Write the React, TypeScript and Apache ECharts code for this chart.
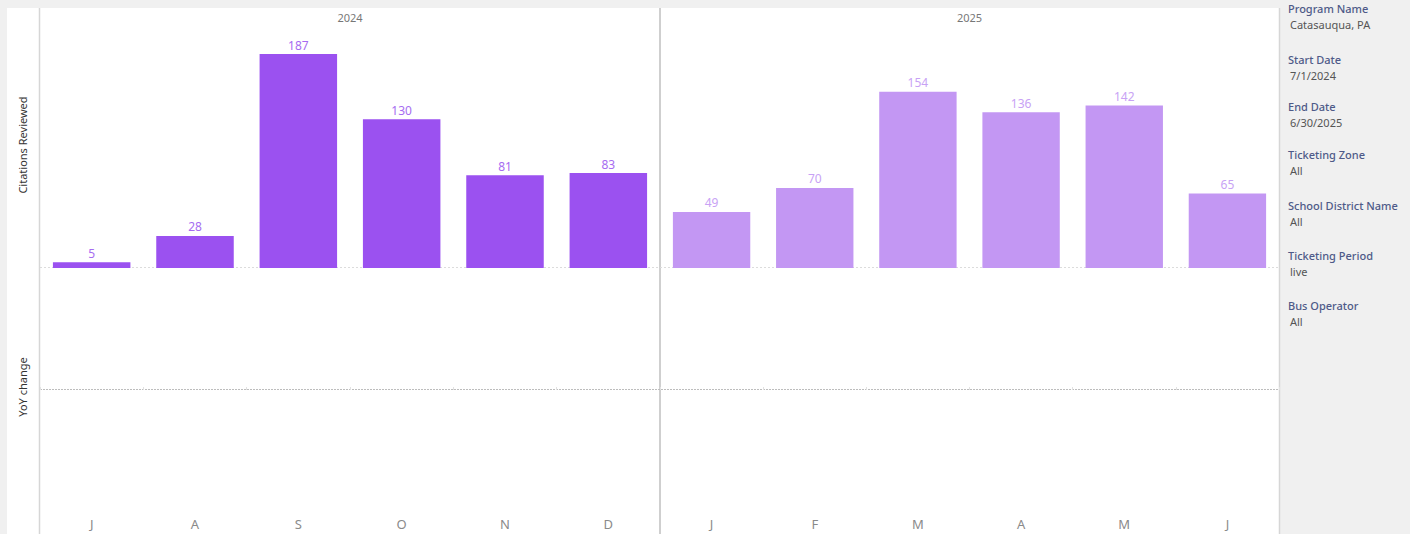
import React, { useEffect, useRef } from "react";
import * as echarts from "echarts";

const months2024 = ["J", "A", "S", "O", "N", "D"];
const months2025 = ["J", "F", "M", "A", "M", "J"];
const values2024 = [5, 28, 187, 130, 81, 83];
const values2025 = [49, 70, 154, 136, 142, 65];
const years = ["2024", "2025"];
const filterTitles = ["Program Name", "Start Date", "End Date", "Ticketing Zone", "School District Name", "Ticketing Period", "Bus Operator"];
const filterValues = ["Catasauqua, PA", "7/1/2024", "6/30/2025", "All", "All", "live", "All"];

const FONT = "'Noto Sans', 'Open Sans', sans-serif";

export default function App() {
  const ref = useRef<HTMLDivElement>(null);
  useEffect(() => {
    if (!ref.current) return;
    const chart = echarts.init(ref.current, undefined, { renderer: "svg" });
    const topY = 8, midY = 268, botY = 512;
    const x0 = 40, x1 = 660, x2 = 1279;
    const filterTitleY = [8, 59, 106, 154, 205, 255, 305];
    const graphic: any[] = [
      { type: "rect", shape: { x: 7, y: 8, width: 1273, height: 526 }, style: { fill: "#ffffff" }, silent: true, z: -10 },
      { type: "line", shape: { x1: 39.5, y1: topY, x2: 39.5, y2: 534 }, style: { stroke: "#d6d6d6", lineWidth: 1.5 } },
      { type: "line", shape: { x1: x1, y1: topY, x2: x1, y2: 534 }, style: { stroke: "#cfcfcf", lineWidth: 2 } },
      { type: "line", shape: { x1: 1279.5, y1: topY, x2: 1279.5, y2: 534 }, style: { stroke: "#d6d6d6", lineWidth: 1.5 } },
      { type: "line", shape: { x1: x0, y1: midY - 0.5, x2: x2, y2: midY - 0.5 }, style: { stroke: "#dcdcdc", lineWidth: 1, lineDash: [2, 2] }, z: 1 },
      { type: "line", shape: { x1: x0, y1: 389.5, x2: x2, y2: 389.5 }, style: { stroke: "#bdbdbd", lineWidth: 1, lineDash: [2, 1] } },
      { type: "text", x: 22, y: 145, rotation: Math.PI / 2, style: { text: "Citations Reviewed", fill: "#333", fontSize: 11, fontFamily: FONT, align: "center", verticalAlign: "middle" } },
      { type: "text", x: 22, y: 387, rotation: Math.PI / 2, style: { text: "YoY change", fill: "#333", fontSize: 11, fontFamily: FONT, align: "center", verticalAlign: "middle" } },
      { type: "text", x: (x0 + x1) / 2, y: 17, style: { text: years[0], fill: "#777", fontSize: 11, fontFamily: FONT, align: "center", verticalAlign: "middle" } },
      { type: "text", x: (x1 + x2) / 2, y: 17, style: { text: years[1], fill: "#777", fontSize: 11, fontFamily: FONT, align: "center", verticalAlign: "middle" } },
    ];
    filterTitles.forEach((t, i) => {
      graphic.push({ type: "text", x: 1288, y: filterTitleY[i], style: { text: t, fill: "#4e5a88", fontSize: 11, fontWeight: 500, fontFamily: FONT, align: "left", verticalAlign: "middle" } });
      graphic.push({ type: "text", x: 1290, y: filterTitleY[i] + 16.5, style: { text: filterValues[i], fill: "#555", fontSize: 11, fontFamily: FONT, align: "left", verticalAlign: "middle" } });
    });

    const yMaxTop = 227.2;
    const catAxis = (gi: number, data: string[], showLabels: boolean) => ({
      type: "category",
      gridIndex: gi,
      data,
      axisLine: { show: false },
      axisTick: { show: showLabels, length: 3, inside: true, lineStyle: { color: "#e2e2e2" } },
      axisLabel: { show: showLabels, color: "#8a8a8a", fontSize: 13, fontFamily: FONT, margin: 5 },
      splitLine: { show: false },
    });
    const valAxis = (gi: number, min: number, max: number) => ({
      type: "value",
      gridIndex: gi,
      min,
      max,
      show: false,
      splitLine: { show: false },
    });
    const barSeries = (gi: number, data: number[], color: string, labelColor: string) => ({
      type: "bar",
      xAxisIndex: gi,
      yAxisIndex: gi,
      data,
      barCategoryGap: "25%",
      itemStyle: { color },
      label: { show: true, position: "top", distance: 3, color: labelColor, fontSize: 12, fontFamily: FONT },
      silent: true,
    });

    chart.setOption({
      animation: false,
      backgroundColor: "#f0f0f0",
      grid: [
        { left: x0, top: topY, width: x1 - x0, height: midY - topY },
        { left: x1, top: topY, width: x2 - x1, height: midY - topY },
        { left: x0, top: midY, width: x1 - x0, height: botY - midY },
        { left: x1, top: midY, width: x2 - x1, height: botY - midY },
      ],
      xAxis: [
        catAxis(0, months2024, false),
        catAxis(1, months2025, false),
        catAxis(2, months2024, true),
        catAxis(3, months2025, true),
      ],
      yAxis: [
        valAxis(0, 0, yMaxTop),
        valAxis(1, 0, yMaxTop),
        valAxis(2, -1, 1),
        valAxis(3, -1, 1),
      ],
      series: [
        barSeries(0, values2024, "#9b51f0", "#a66cf1"),
        barSeries(1, values2025, "#c397f3", "#c8a2f5"),
      ],
      graphic,
    });
    return () => chart.dispose();
  }, []);
  return <div ref={ref} style={{ position: "fixed", left: 0, top: 0, width: 1410, height: 534 }} />;
}
